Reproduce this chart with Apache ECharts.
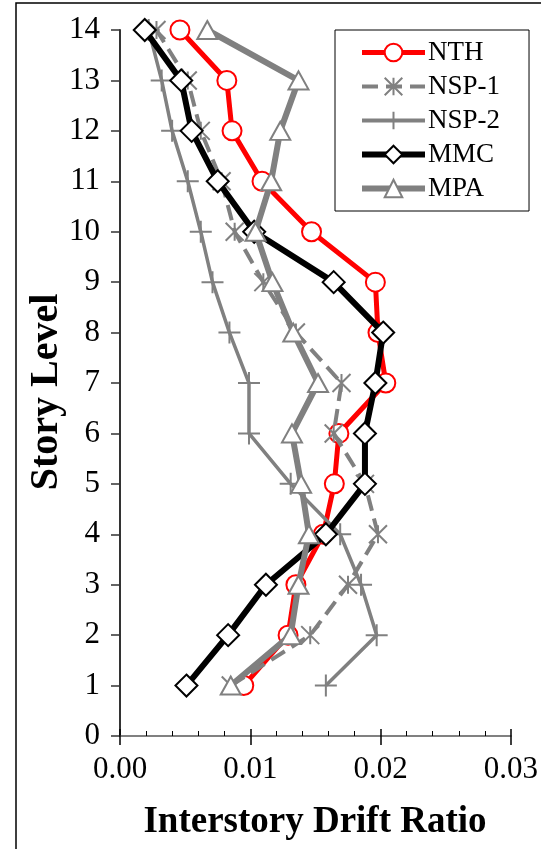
<!DOCTYPE html>
<html><head><meta charset="utf-8">
<script src="https://cdn.jsdelivr.net/npm/echarts@6/dist/echarts.min.js"></script>
<style>html,body{margin:0;padding:0;background:#fff}#c{width:541px;height:849px}</style>
</head><body><div id="c"></div>
<script>
const levels = [1,2,3,4,5,6,7,8,9,10,11,12,13,14];
const NTH  = [0.0095,0.0129,0.0135,0.0156,0.01645,0.0168,0.0204,0.0198,0.0196,0.0147,0.0109,0.0086,0.0082,0.0046];
const NSP1 = [0.0085,0.0146,0.0175,0.0198,0.0188,0.0164,0.0170,0.0135,0.0110,0.0088,0.0078,0.0062,0.0052,0.0028];
const NSP2 = [0.0158,0.0197,0.0185,0.0169,0.0131,0.0099,0.0099,0.0084,0.0071,0.0062,0.0052,0.0040,0.0032,0.0022];
const MMC  = [0.0051,0.0083,0.0112,0.0158,0.0188,0.0188,0.0196,0.0202,0.0164,0.0103,0.0075,0.0055,0.0047,0.0019];
const MPA  = [0.0085,0.0131,0.0137,0.0145,0.0139,0.0132,0.0152,0.0133,0.0117,0.0104,0.0116,0.0123,0.0137,0.0067];
const seriesNames = ['NTH','NSP-1','NSP-2','MMC','MPA'];
const xTicks = {min:0, max:0.03, interval:0.01};
const yTicks = {min:0, max:14, interval:1};

const FONT = "'Liberation Serif','Times New Roman',serif";
const pairs = arr => arr.map((v,i)=>[v, levels[i]]);
const GRAY = '#808080';
const asterisk = 'path://M10,0L10,20M0,0L20,20M0,20L20,0';
const plus = 'path://M0,10L20,10M10,0L10,20';
const legendWidths = {'NTH':5, 'NSP-1':4, 'NSP-2':4, 'MMC':6, 'MPA':6};

const chart = echarts.init(document.getElementById('c'));
chart.setOption({
  animation:false,
  backgroundColor:'#fff',
  grid:{left:120, top:30, right:27, bottom:113, containLabel:false},
  graphic:[
    {type:'rect', shape:{x:16,y:3,width:620,height:920}, style:{fill:'none',stroke:'#000',lineWidth:1.5}, z:-10},
    {type:'text', style:{text:'Interstory Drift Ratio', font:"bold 37px "+FONT, fill:'#000', textAlign:'center', textVerticalAlign:'middle'}, x:315, y:822},
    {type:'text', style:{text:'Story Level', font:"bold 40px "+FONT, fill:'#000', textAlign:'center', textVerticalAlign:'middle'}, x:47, y:392, rotation:Math.PI/2}
  ],
  legend:{
    orient:'vertical', left:335, top:30,
    padding:[9,29,9,24], itemGap:7, itemWidth:63, itemHeight:22,
    borderColor:'#000', borderWidth:1, backgroundColor:'#fff',
    textStyle:{fontFamily:FONT, fontSize:27, color:'#000', padding:[0,0,0,-2]},
    data:seriesNames.map(n=>({name:n, lineStyle:{width:legendWidths[n]}}))
  },
  xAxis:[{
    type:'value', min:xTicks.min, max:xTicks.max, interval:xTicks.interval, position:'bottom',
    axisLine:{show:true, lineStyle:{color:GRAY, width:2}},
    axisTick:{show:true, inside:false, length:9, lineStyle:{color:'#000', width:1.5}},
    axisLabel:{fontFamily:FONT, fontSize:31, color:'#000', margin:18, formatter:v=>v.toFixed(2)},
    splitLine:{show:false}
  },{
    type:'value', min:xTicks.min, max:xTicks.max, interval:xTicks.interval, position:'bottom', offset:0,
    axisLine:{show:false},
    axisTick:{show:true, inside:true, length:7, lineStyle:{color:'#000', width:1.5}},
    minorTick:{show:true, splitNumber:5, length:5, lineStyle:{color:'#000', width:1}},
    axisLabel:{show:false}, splitLine:{show:false}
  }],
  yAxis:{
    type:'value', min:yTicks.min, max:yTicks.max, interval:yTicks.interval,
    axisLine:{show:true, lineStyle:{color:'#333', width:2}},
    axisTick:{show:true, inside:false, length:9, lineStyle:{color:'#333', width:1.5}},
    axisLabel:{fontFamily:FONT, fontSize:31, color:'#000', margin:20},
    splitLine:{show:false}
  },
  series:[
    {name:'NTH', type:'line', data:pairs(NTH), symbol:'circle', symbolSize:19,
     lineStyle:{color:'#FF0000', width:5}, itemStyle:{color:'#fff', borderColor:'#FF0000', borderWidth:2}, z:2},
    {name:'NSP-1', type:'line', data:pairs(NSP1), symbol:asterisk, symbolSize:18,
     lineStyle:{color:GRAY, width:4, type:[16,8]}, itemStyle:{color:'#fff', borderColor:GRAY, borderWidth:2}, z:3},
    {name:'NSP-2', type:'line', data:pairs(NSP2), symbol:plus, symbolSize:22,
     lineStyle:{color:GRAY, width:3.5}, itemStyle:{color:'#fff', borderColor:GRAY, borderWidth:2}, z:4},
    {name:'MMC', type:'line', data:pairs(MMC), symbol:'diamond', symbolSize:[22,22],
     lineStyle:{color:'#000', width:6}, itemStyle:{color:'#fff', borderColor:'#000', borderWidth:2}, z:5},
    {name:'MPA', type:'line', data:pairs(MPA), symbol:'triangle', symbolSize:[20,18],
     lineStyle:{color:GRAY, width:6}, itemStyle:{color:'#fff', borderColor:GRAY, borderWidth:2}, z:6}
  ]
});
</script></body></html>
